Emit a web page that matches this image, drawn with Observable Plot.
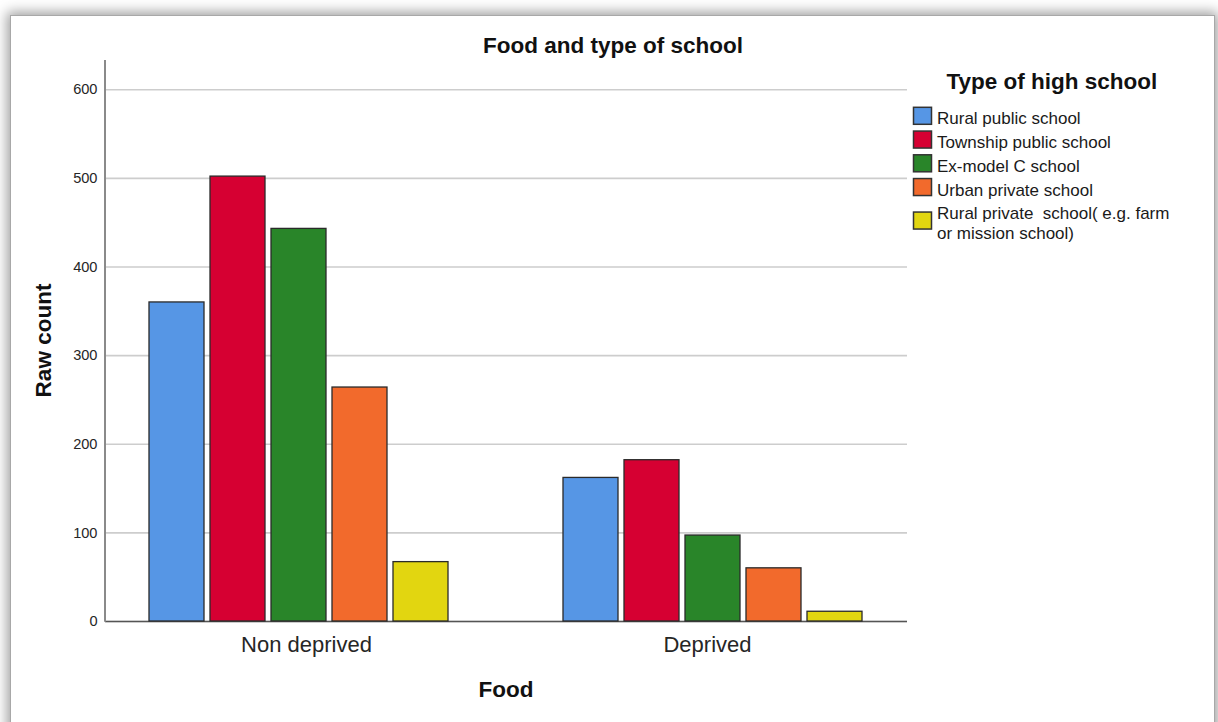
<!DOCTYPE html>
<html>
<head>
<meta charset="utf-8">
<script src="https://cdn.jsdelivr.net/npm/d3@7"></script>
<script src="https://cdn.jsdelivr.net/npm/@observablehq/plot@0.6"></script>
<style>
  html, body { margin: 0; padding: 0; background: #ffffff; overflow: hidden; }
  body { width: 1218px; height: 722px; position: relative; }
  #frame { position: absolute; left: 10px; top: 15px; width: 1203px; height: 760px; background: #fff;
           box-shadow: 0 0 12px 3px rgba(0,0,0,0.38); border-left: 1px solid #a8a8a8; border-top: 1px solid #a8a8a8; border-right: 1px solid #a8a8a8; }
  .layer { position: absolute; left: 0; top: 0; }
  .layer svg { display: block; max-width: none; }
</style>
</head>
<body>
<div id="frame"></div>
<div id="bg" class="layer"></div>
<div id="fg" class="layer"></div>
<div id="ann" class="layer"></div>
<script>
// ---- data ----
const foods = ["Non deprived", "Deprived"];
const schools = [
  "Rural public school",
  "Township public school",
  "Ex-model C school",
  "Urban private school",
  "Rural private  school( e.g. farm or mission school)"
];
const legendLabels = [
  ["Rural public school"],
  ["Township public school"],
  ["Ex-model C school"],
  ["Urban private school"],
  ["Rural private  school( e.g. farm", "or mission school)"]
];
const nonDeprivedCounts = [360, 502, 443, 264, 67];
const deprivedCounts = [162, 182, 97, 60, 11];
const yTicks = [0, 100, 200, 300, 400, 500, 600];
const colors = ["#5696E5", "#D60032", "#298529", "#F26A2C", "#E2D610"];

const title = "Food and type of school";
const xTitle = "Food";
const yTitle = "Raw count";
const legendTitle = "Type of high school";

// ---- layout ----
const W = 1218, H = 722;
const ML = 105, MR = 311, MT = 60, MB = 101;
const yMax = 633;
const FONT = "'Liberation Sans', Arial, sans-serif";
const fxPad = {paddingInner: 0.277, paddingOuter: 0.105, align: 0.5};

const rows = [];
foods.forEach((f, i) => {
  const vals = i === 0 ? nonDeprivedCounts : deprivedCounts;
  schools.forEach((s, j) => rows.push({food: f, school: s, count: vals[j]}));
});

// background layer: grid, axes
const bg = Plot.plot({
  width: W, height: H,
  marginLeft: ML, marginRight: MR, marginTop: MT, marginBottom: MB,
  style: {background: "transparent", fontFamily: FONT, overflow: "visible"},
  x: {domain: foods, ...fxPad},
  y: {domain: [0, yMax]},
  marks: [
    Plot.gridY(yTicks, {stroke: "#cdcdcd", strokeOpacity: 1, strokeWidth: 1.7}),
    Plot.axisY(yTicks, {tickSize: 0, tickPadding: 8, fontSize: 14.6, fill: "#262626", label: null}),
    Plot.axisX({tickSize: 0, tickPadding: 15, fontSize: 22, fill: "#262626", label: null}),
    Plot.ruleY([0], {stroke: "#555555", strokeWidth: 1.6})
  ]
});
document.getElementById("bg").appendChild(bg);
{
  const ys = bg.scale("y");
  d3.select(bg).append("line")
    .attr("x1", ML).attr("x2", ML)
    .attr("y1", ys.apply(yMax)).attr("y2", ys.apply(0) + 0.8)
    .attr("stroke", "#8a8a8a").attr("stroke-width", 2);
}

// foreground layer: bars
const fg = Plot.plot({
  width: W, height: H,
  marginLeft: ML, marginRight: MR, marginTop: MT, marginBottom: MB,
  style: {background: "transparent", fontFamily: FONT, overflow: "visible"},
  facet: {data: rows, x: "food"},
  fx: {domain: foods, ...fxPad, axis: null, label: null},
  x: {domain: schools, paddingInner: 0.1, paddingOuter: 0, align: 0.5, axis: null},
  y: {domain: [0, yMax], axis: null},
  color: {domain: schools, range: colors},
  marks: [
    Plot.barY(rows, {x: "school", y: "count", fill: "school", stroke: "#2a2a2a", strokeWidth: 1.3})
  ]
});
document.getElementById("fg").appendChild(fg);

// annotations: titles and legend
const ann = d3.select("#ann").append("svg")
  .attr("width", W).attr("height", H)
  .style("font-family", FONT);

ann.append("text").text(title)
  .attr("x", 613).attr("y", 53).attr("text-anchor", "middle")
  .attr("font-weight", "bold").attr("font-size", 22.5).attr("fill", "#111");

ann.append("text").text(xTitle)
  .attr("x", (ML + (W - MR)) / 2).attr("y", 697).attr("text-anchor", "middle")
  .attr("font-weight", "bold").attr("font-size", 22.5).attr("fill", "#111");

ann.append("text").text(yTitle)
  .attr("transform", `translate(50.5,${(MT + H - MB) / 2}) rotate(-90)`)
  .attr("text-anchor", "middle")
  .attr("font-weight", "bold").attr("font-size", 22.5).attr("fill", "#111");

ann.append("text").text(legendTitle)
  .attr("x", 946.5).attr("y", 89.3)
  .attr("font-weight", "bold").attr("font-size", 22.5).attr("fill", "#111");

const color = fg.scale("color");
let baseline = 124.3;
const itemStep = 23.75, lineStep = 19.5;
legendLabels.forEach((lines, i) => {
  const n = lines.length;
  const cy = baseline - 8.5 + (n - 1) * lineStep / 2;
  ann.append("rect")
    .attr("x", 913.5).attr("y", cy - 8.5).attr("width", 18).attr("height", 17)
    .attr("fill", color.apply(schools[i])).attr("stroke", "#333").attr("stroke-width", 1.5);
  const t = ann.append("text")
    .attr("font-size", 17).attr("fill", "#1a1a1a").style("white-space", "pre")
    .attr("textLength", null);
  lines.forEach((ln, k) => {
    t.append("tspan").attr("x", 937).attr("y", baseline + k * lineStep).text(ln);
  });
  baseline += itemStep + (n - 1) * lineStep;
});
</script>
</body>
</html>
